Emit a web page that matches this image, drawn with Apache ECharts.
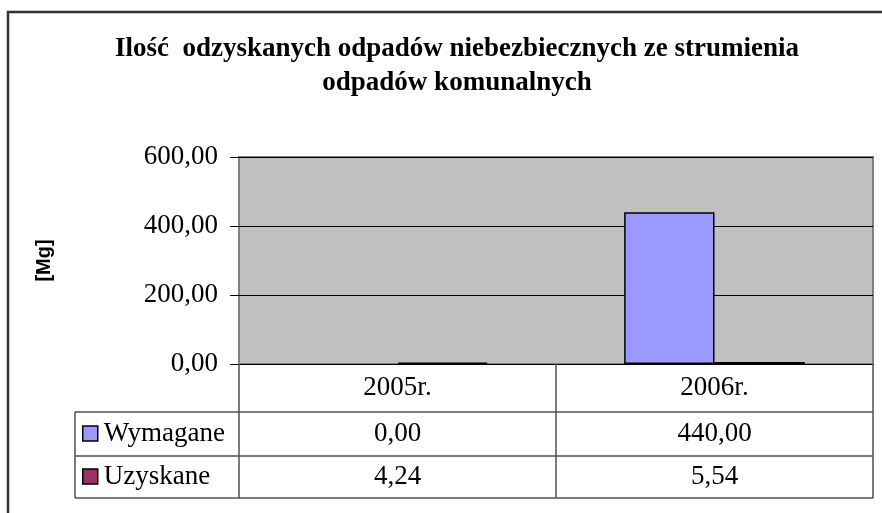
<!DOCTYPE html>
<html>
<head>
<meta charset="utf-8">
<script src="https://cdn.jsdelivr.net/npm/echarts@6/dist/echarts.min.js"></script>
<style>
html, body { margin: 0; padding: 0; background: #fff; }
#chart { width: 882px; height: 513px; }
</style>
</head>
<body>
<div id="chart"></div>
<script>
var years = ['2005r.', '2006r.'];
var wymagane = [0, 440];
var uzyskane = [4.24, 5.54];
var seriesNames = ['Wymagane', 'Uzyskane'];

var serif = '"Liberation Serif", "Times New Roman", serif';
var fmt = function (v) { return v.toFixed(2).replace('.', ','); };
var lineColor = '#505050';

// zero-height bars get no outline, as in the original
var barData = function (vals) {
    return vals.map(function (v) {
        return v === 0 ? { value: v, itemStyle: { borderWidth: 0 } } : v;
    });
};

var myChart = echarts.init(document.getElementById('chart'));

var option = {
    animation: false,
    backgroundColor: '#fff',
    title: {
        text: 'Ilość  odzyskanych odpadów niebezbiecznych ze strumienia\nodpadów komunalnych',
        left: 452,
        top: 27,
        textAlign: 'center',
        textStyle: {
            fontFamily: serif,
            fontWeight: 'bold',
            fontSize: 27,
            lineHeight: 34,
            color: '#000'
        }
    },
    legend: {
        orient: 'vertical',
        left: 82,
        top: 420,
        padding: 0,
        itemGap: 16,
        itemWidth: 15,
        itemHeight: 15,
        icon: 'rect',
        selectedMode: false,
        itemStyle: { borderColor: '#000', borderWidth: 1.5 },
        textStyle: { fontFamily: serif, fontSize: 27, lineHeight: 27, color: '#000', padding: [0, 0, 0, 1] },
        data: seriesNames
    },
    grid: {
        left: 239,
        right: 9,
        top: 157,
        bottom: 149,
        show: true,
        backgroundColor: '#c0c0c0',
        borderColor: '#808080',
        borderWidth: 2,
        containLabel: false
    },
    xAxis: {
        type: 'category',
        data: years,
        axisLine: { lineStyle: { color: '#000', width: 1 } },
        axisTick: { show: true, length: 134, lineStyle: { color: lineColor, width: 1.5 } },
        axisLabel: { fontFamily: serif, fontSize: 27, color: '#000', margin: 10 }
    },
    yAxis: {
        type: 'value',
        min: 0,
        max: 600,
        interval: 200,
        name: '[Mg]',
        nameLocation: 'middle',
        nameRotate: 90,
        nameGap: 185,
        nameTextStyle: {
            fontFamily: '"Liberation Sans", Arial, sans-serif',
            fontWeight: 'bold',
            fontSize: 20,
            color: '#000'
        },
        axisLine: { show: false },
        axisTick: { show: true, length: 9, lineStyle: { color: '#000' } },
        axisLabel: {
            fontFamily: serif, fontSize: 27, color: '#000', margin: 21,
            formatter: function (v) { return fmt(v); }
        },
        splitLine: { lineStyle: { color: '#000', width: 1 } }
    },
    series: [
        {
            name: seriesNames[0],
            type: 'bar',
            data: barData(wymagane),
            barGap: '0%',
            barCategoryGap: '43%',
            itemStyle: { color: '#9999ff', borderColor: '#000', borderWidth: 1.5 }
        },
        {
            name: seriesNames[1],
            type: 'bar',
            data: barData(uzyskane),
            itemStyle: { color: '#993366', borderColor: '#000', borderWidth: 1.5 }
        }
    ]
};

myChart.setOption(option);

// data table under the plot
var rows = [wymagane, uzyskane];
var rowY = [434, 477];
var graphics = [];
var left = 75, right = 873;
[412, 456, 498].forEach(function (y) {
    graphics.push({ type: 'line', shape: { x1: left, y1: y, x2: right, y2: y }, style: { stroke: lineColor, lineWidth: 1.5 } });
});
graphics.push({ type: 'line', shape: { x1: left, y1: 412, x2: left, y2: 498 }, style: { stroke: lineColor, lineWidth: 1.5 } });
rows.forEach(function (vals, r) {
    vals.forEach(function (v, i) {
        var x = myChart.convertToPixel({ xAxisIndex: 0 }, years[i]);
        graphics.push({
            type: 'text',
            x: x, y: rowY[r],
            style: { text: fmt(v), font: '27px ' + serif, fill: '#000', align: 'center', verticalAlign: 'middle' }
        });
    });
});
// chart area frame
graphics.push({ type: 'rect', shape: { x: 8, y: 12, width: 900, height: 520 }, style: { fill: null, stroke: '#333', lineWidth: 2.5 }, z: -1 });

myChart.setOption({ graphic: graphics });
</script>
</body>
</html>
